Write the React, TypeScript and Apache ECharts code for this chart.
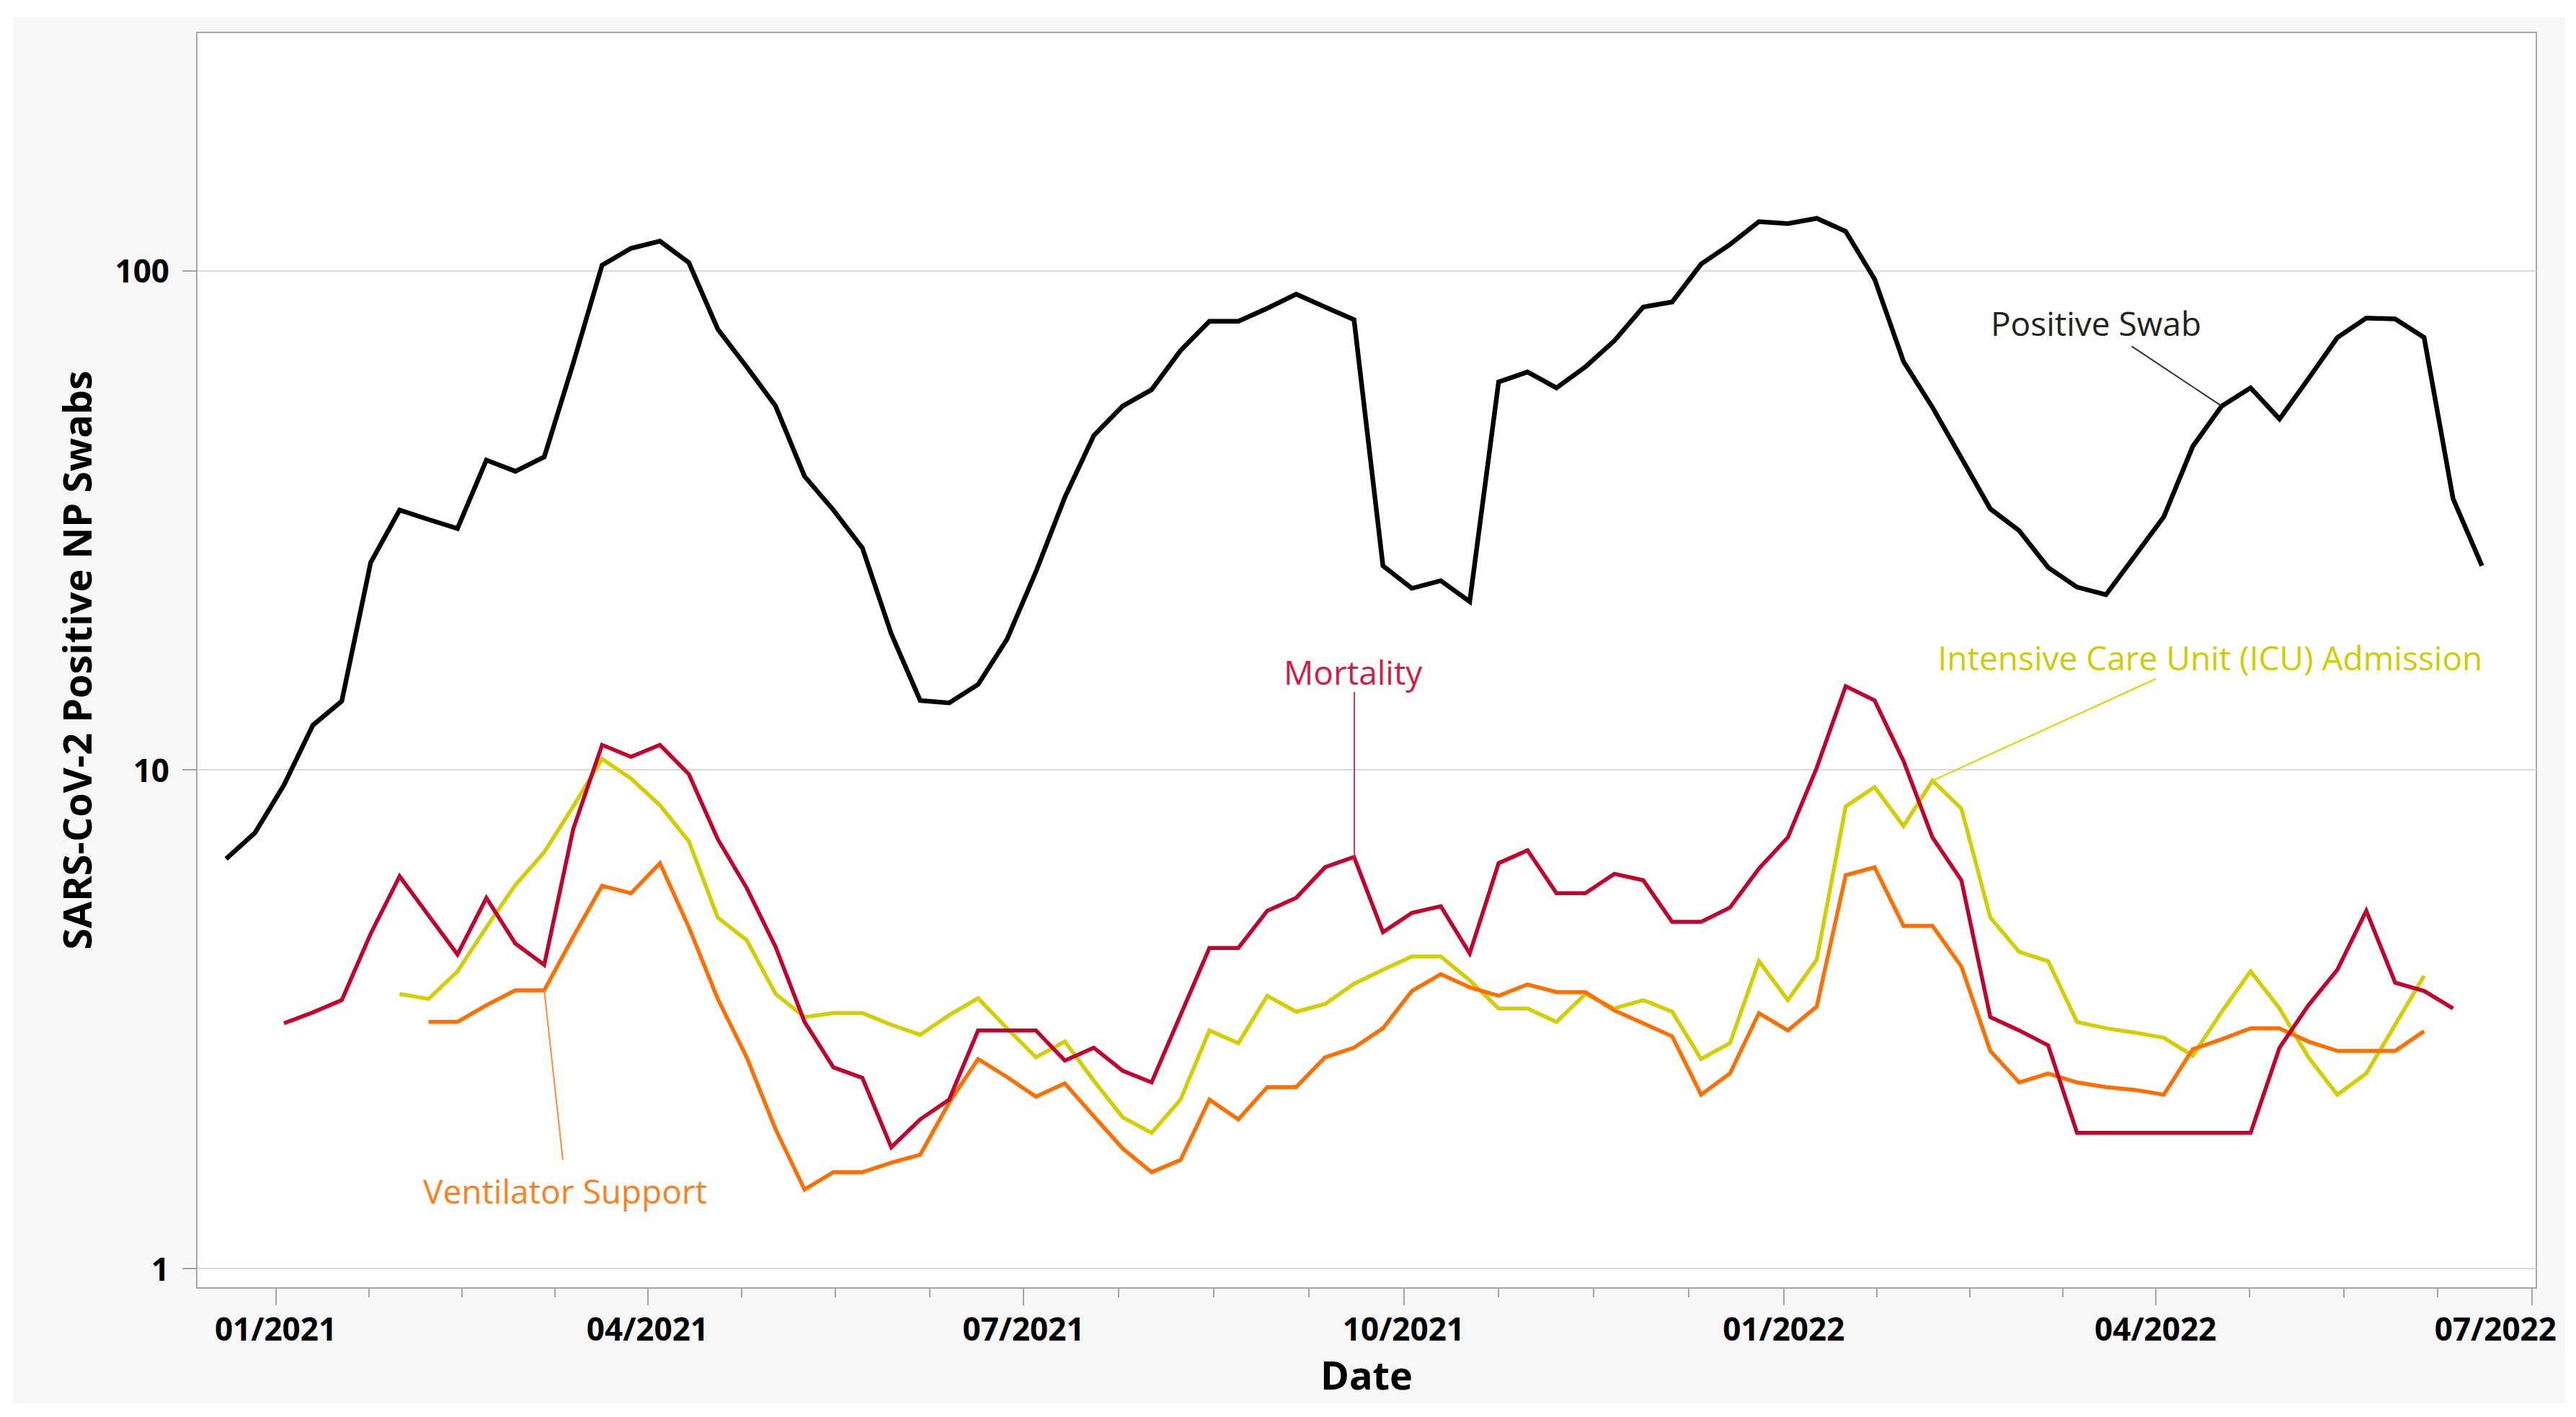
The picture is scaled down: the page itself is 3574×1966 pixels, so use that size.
import React, { useEffect, useRef } from "react";
import * as echarts from "echarts";

// Weekly reporting dates
const dates: string[] = [
  "2020-12-20", "2020-12-27", "2021-01-03", "2021-01-10", "2021-01-17", "2021-01-24", "2021-01-31",
  "2021-02-07", "2021-02-14", "2021-02-21", "2021-02-28", "2021-03-07", "2021-03-14", "2021-03-21",
  "2021-03-28", "2021-04-04", "2021-04-11", "2021-04-18", "2021-04-25", "2021-05-02", "2021-05-09",
  "2021-05-16", "2021-05-23", "2021-05-30", "2021-06-06", "2021-06-13", "2021-06-20", "2021-06-27",
  "2021-07-04", "2021-07-11", "2021-07-18", "2021-07-25", "2021-08-01", "2021-08-08", "2021-08-15",
  "2021-08-22", "2021-08-29", "2021-09-05", "2021-09-12", "2021-09-19", "2021-09-26", "2021-10-03",
  "2021-10-10", "2021-10-17", "2021-10-24", "2021-10-31", "2021-11-07", "2021-11-14", "2021-11-21",
  "2021-11-28", "2021-12-05", "2021-12-12", "2021-12-19", "2021-12-26", "2022-01-02", "2022-01-09",
  "2022-01-16", "2022-01-23", "2022-01-30", "2022-02-06", "2022-02-13", "2022-02-20", "2022-02-27",
  "2022-03-06", "2022-03-13", "2022-03-20", "2022-03-27", "2022-04-03", "2022-04-10", "2022-04-17",
  "2022-04-24", "2022-05-01", "2022-05-08", "2022-05-15", "2022-05-22", "2022-05-29", "2022-06-05",
  "2022-06-12", "2022-06-19",
];

const positiveSwab: (number | null)[] = [
  6.62, 7.47, 9.31, 12.27, 13.71, 26.0, 33.1, 31.7, 30.4, 41.7, 39.6, 42.3, 65.1, 102.5,
  110.8, 114.5, 103.7, 76.3, 64.1, 53.5, 38.7, 33.1, 27.8, 18.7, 13.75, 13.6, 14.8,
  18.24, 24.9, 35.1, 46.7, 53.5, 57.7, 69.1, 79.1, 79.1, 84.0, 89.7, 84.5, 79.7,
  25.6, 23.07, 23.9, 21.7, 59.8, 62.6, 58.2, 64.1, 72.3, 84.5, 86.5, 103, 112.8,
  125.3, 124.2, 127.2, 119.8, 96.1, 65.7, 53.2, 42.1, 33.3, 30.1, 25.4, 23.2, 22.4,
  26.8, 32.1, 44.4, 53.5, 58.2, 50.4, 60.7, 73.4, 80.3, 80.0, 73.4, 34.9, 25.6,
];

const mortality: (number | null)[] = [
  null, null, 3.10, 3.26, 3.45, 4.69, 6.11, 5.10, 4.26, 5.53, 4.48, 4.06, 7.59, 11.2,
  10.6, 11.2, 9.79, 7.25, 5.79, 4.41, 3.12, 2.53, 2.41, 1.75, 1.99, 2.18, 3.00,
  3.00, 3.00, 2.61, 2.77, 2.49, 2.36, 3.22, 4.39, 4.39, 5.21, 5.53, 6.37, 6.68,
  4.72, 5.16, 5.32, 4.28, 6.49, 6.89, 5.65, 5.65, 6.18, 6.00, 4.95, 4.95, 5.29,
  6.33, 7.31, 10.09, 14.69, 13.75, 10.4, 7.31, 6.00, 3.19, 3.00, 2.80, 1.87, 1.87,
  1.87, 1.87, 1.87, 1.87, 1.87, 2.77, 3.37, 3.97, 5.21, 3.74, 3.60, 3.32, null,
];

const icuAdmission: (number | null)[] = [
  null, null, null, null, null, null, 3.55, 3.47, 3.94, 4.83, 5.87, 6.83, 8.43, 10.5,
  9.59, 8.48, 7.18, 5.05, 4.55, 3.55, 3.19, 3.25, 3.25, 3.08, 2.94, 3.22, 3.48,
  3.03, 2.65, 2.85, 2.38, 2.01, 1.87, 2.18, 3.00, 2.83, 3.52, 3.27, 3.39, 3.72,
  3.97, 4.22, 4.22, 3.78, 3.32, 3.32, 3.12, 3.55, 3.32, 3.45, 3.27, 2.63, 2.83,
  4.13, 3.45, 4.16, 8.43, 9.22, 7.70, 9.50, 8.35, 5.05, 4.31, 4.13, 3.12, 3.03,
  2.97, 2.90, 2.67, 3.27, 3.94, 3.32, 2.65, 2.23, 2.46, 3.08, 3.86, null, null,
];

const ventilatorSupport: (number | null)[] = [
  null, null, null, null, null, null, null, 3.12, 3.12, 3.37, 3.61, 3.61, 4.62, 5.85,
  5.65, 6.49, 4.83, 3.47, 2.65, 1.90, 1.44, 1.56, 1.56, 1.63, 1.69, 2.15, 2.63,
  2.42, 2.21, 2.35, 2.02, 1.74, 1.56, 1.65, 2.18, 1.99, 2.31, 2.31, 2.65, 2.77,
  3.03, 3.60, 3.89, 3.66, 3.52, 3.71, 3.58, 3.58, 3.29, 3.10, 2.92, 2.23, 2.46,
  3.25, 3.00, 3.35, 6.14, 6.37, 4.86, 4.86, 4.03, 2.73, 2.36, 2.46, 2.36, 2.31,
  2.28, 2.23, 2.75, 2.88, 3.03, 3.03, 2.85, 2.73, 2.73, 2.73, 2.99, null, null,
];

const yTickValues = [1, 10, 100];
const quarterTicks = [
  "2021-01-01", "2021-04-01", "2021-07-01", "2021-10-01", "2022-01-01", "2022-04-01", "2022-07-01",
];
const xTickLabels = ["01/2021", "04/2021", "07/2021", "10/2021", "01/2022", "04/2022", "07/2022"];

const FONT = "'Open Sans', 'Noto Sans', 'DejaVu Sans', sans-serif";
const AXIS_GRAY = "#a6a6a6";

function parseLocal(s: string): number {
  const [d, t] = s.split(" ");
  const [y, m, day] = d.split("-").map(Number);
  const [hh, mm] = t ? t.split(":").map(Number) : [0, 0];
  return new Date(y, m - 1, day, hh, mm).getTime();
}

const pairs = (arr: (number | null)[]) => dates.map((d, i) => [parseLocal(d), arr[i]]);

export default function App() {
  const ref = useRef<HTMLDivElement>(null);

  useEffect(() => {
    if (!ref.current) return;
    const chart = echarts.init(ref.current, undefined, { renderer: "svg" });

    const majorTs = quarterTicks.map(parseLocal);
    const minorTs: number[] = [];
    for (let q = 0; q < majorTs.length - 1; q++) {
      const a = majorTs[q];
      const b = majorTs[q + 1];
      for (let k = 1; k < 4; k++) minorTs.push(a + ((b - a) * k) / 4);
    }
    const xMin = parseLocal("2020-12-12 21:36");
    const xMax = parseLocal("2022-07-02 04:00");

    const tickLabelStyle = {
      fontSize: 44,
      fontWeight: "bold",
      color: "#000",
      fontFamily: FONT,
    };

    const annotLabel = (text: string, color: string, at: [string, number]) => ({
      silent: true,
      symbol: "circle",
      symbolSize: 0,
      itemStyle: { color: "rgba(0,0,0,0)" },
      label: {
        show: true,
        position: "inside",
        formatter: text,
        color,
        fontSize: 46,
        fontFamily: FONT,
        fontWeight: "normal",
      },
      data: [{ coord: [parseLocal(at[0]), at[1]] }],
    });

    const leader = (color: string, from: [number, number], to: [number, number]) => ({
      silent: true,
      symbol: ["none", "none"],
      label: { show: false },
      lineStyle: { color, width: 2, type: "solid" },
      emphasis: { disabled: true },
      data: [[{ coord: from }, { coord: to }]],
    });

    const lineSeries = (name: string, arr: (number | null)[], color: string, width: number) => ({
      name,
      type: "line",
      xAxisIndex: 0,
      yAxisIndex: 0,
      data: pairs(arr),
      showSymbol: false,
      symbol: "none",
      connectNulls: false,
      lineStyle: { color, width, join: "miter", miterLimit: 4 },
      itemStyle: { color },
      emphasis: { disabled: true },
    });

    chart.setOption({
      animation: false,
      backgroundColor: "#ffffff",
      textStyle: { fontFamily: FONT },
      graphic: [
        {
          type: "rect",
          silent: true,
          z: -10,
          shape: { x: 19, y: 24, width: 3540, height: 1923 },
          style: { fill: "#f7f7f7" },
        },
      ],
      grid: {
        left: 273,
        right: 55,
        top: 45,
        bottom: 179,
        containLabel: false,
        outerBoundsMode: "none",
        show: true,
        backgroundColor: "#ffffff",
        borderColor: AXIS_GRAY,
        borderWidth: 2,
      },
      xAxis: [
        {
          type: "value",
          min: xMin,
          max: xMax,
          position: "bottom",
          axisLine: { show: true, onZero: false, lineStyle: { color: AXIS_GRAY, width: 2 } },
          axisTick: { show: true, customValues: minorTs, length: 13, lineStyle: { color: AXIS_GRAY, width: 2 } },
          axisLabel: { show: false },
          splitLine: { show: false },
        },
        {
          type: "value",
          min: xMin,
          max: xMax,
          position: "bottom",
          axisLine: { show: false, onZero: false },
          axisTick: { show: true, customValues: majorTs, length: 24, lineStyle: { color: AXIS_GRAY, width: 2 } },
          axisLabel: {
            show: true,
            customValues: majorTs,
            formatter: (v: number) => {
              const idx = majorTs.findIndex((m) => Math.abs(m - v) < 3600000);
              if (idx < 0) return "";
              return idx === majorTs.length - 1 ? `{last|${xTickLabels[idx]}}` : xTickLabels[idx];
            },
            ...tickLabelStyle,
            margin: 34,
            rich: {
              last: { ...tickLabelStyle, padding: [0, 100, 0, 0] },
            },
          },
          splitLine: { show: false },
          name: "Date",
          nameLocation: "middle",
          nameGap: 93,
          nameTextStyle: { fontSize: 54, fontWeight: "bold", color: "#000", fontFamily: FONT },
        },
      ],
      yAxis: {
        type: "log",
        logBase: 10,
        min: 0.914,
        max: 300,
        axisLine: { show: true, lineStyle: { color: AXIS_GRAY, width: 2 } },
        axisTick: { show: true, customValues: yTickValues, length: 20, lineStyle: { color: AXIS_GRAY, width: 2 } },
        axisLabel: {
          show: true,
          customValues: yTickValues,
          formatter: (v: number) => String(Math.round(v)),
          ...tickLabelStyle,
          margin: 38,
        },
        splitLine: { show: true, lineStyle: { color: "#d9d9d9", width: 2 } },
        name: "SARS-CoV-2 Positive NP Swabs",
        nameLocation: "middle",
        nameGap: 140,
        nameTextStyle: { fontSize: 54, fontWeight: "bold", color: "#000", fontFamily: FONT },
      },
      series: [
        {
          ...lineSeries("Intensive Care Unit (ICU) Admission", icuAdmission, "#d1cf00", 5.5),
          markLine: leader("#d8d400", [parseLocal("2022-04-01 02:00"), 15.2], [parseLocal(dates[59]), icuAdmission[59] as number]),
          markPoint: annotLabel("Intensive Care Unit (ICU) Admission", "#cfcc00", ["2022-04-14 05:00", 16.8]),
        },
        {
          ...lineSeries("Ventilator Support", ventilatorSupport, "#ff7000", 5.5),
          markLine: leader("#ff8c3a", [parseLocal("2021-03-11 12:00"), 1.65], [parseLocal(dates[11]), ventilatorSupport[11] as number]),
          markPoint: annotLabel("Ventilator Support", "#ff8020", ["2021-03-12 01:00", 1.43]),
        },
        {
          ...lineSeries("Mortality", mortality, "#c2002e", 5.5),
          markLine: leader("#d6365c", [parseLocal(dates[39]), 14.3], [parseLocal(dates[39]), mortality[39] as number]),
          markPoint: annotLabel("Mortality", "#d41b45", ["2021-09-18 18:00", 15.7]),
        },
        {
          ...lineSeries("Positive Swab", positiveSwab, "#000000", 6.5),
          markLine: leader("#333333", [parseLocal("2022-03-26 05:00"), 70.5], [parseLocal(dates[69]), positiveSwab[69] as number]),
          markPoint: annotLabel("Positive Swab", "#222222", ["2022-03-17 14:00", 78.4]),
        },
      ],
    });

    return () => chart.dispose();
  }, []);

  return (
    <div
      ref={ref}
      style={{ position: "fixed", left: 0, top: 0, width: 3574, height: 1966 }}
    />
  );
}
